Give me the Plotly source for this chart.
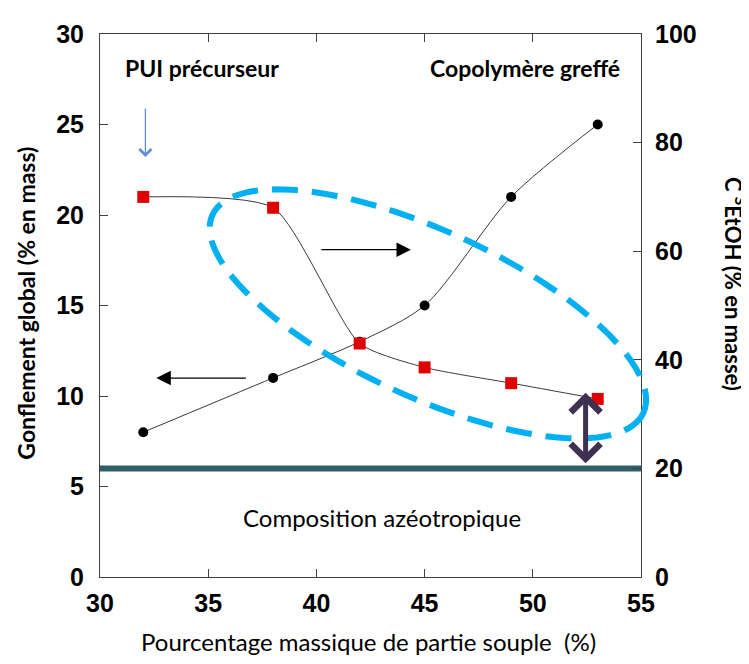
import numpy as np
import plotly.graph_objects as go

# ---- data ----
x_soft = [32, 38, 42, 45, 49, 53]                 # % partie souple
gonflement = [8, 11, 13, 15, 21, 25]               # % en mass (left axis)
c_etoh = [70, 68, 43, 38.6, 35.7, 32.8]            # % en masse (right axis)
azeotrope = [20, 20]                               # composition azéotropique (right axis)
azeo_x = [30, 55]
x_ticks = [30, 35, 40, 45, 50, 55]
y_ticks = [0, 5, 10, 15, 20, 25, 30]
y2_ticks = [0, 20, 40, 60, 80, 100]

# page has an 8px body margin; figure drawn at (8, 8)
OFF = 8
W, H = 749 - OFF, 664 - OFF
REF_L, REF_R, REF_T, REF_B = 99.5, 641.5, 27.5, 577.5
ML, MT = REF_L - OFF, REF_T - OFF
PW, PH = REF_R - REF_L, REF_B - REF_T
MR, MB = W - ML - PW, H - MT - PH

def px2paper(px, py):
    return (px - REF_L) / PW, (REF_B - py) / PH

TICKFONT = dict(family="Liberation Sans, Arial", size=25, color="black", weight="bold")
TXT = "Lato, Open Sans, sans-serif"

fig = go.Figure()

fig.add_trace(go.Scatter(
    x=azeo_x, y=azeotrope, yaxis="y2", mode="lines",
    line=dict(color="#2E5E6A", width=6), hoverinfo="skip", showlegend=False))

fig.add_trace(go.Scatter(
    x=x_soft, y=gonflement, mode="lines+markers",
    line=dict(color="#3a3a3a", width=1, shape="spline", smoothing=0.8),
    marker=dict(symbol="circle", size=10, color="black"),
    showlegend=False))

fig.add_trace(go.Scatter(
    x=x_soft, y=c_etoh, yaxis="y2", mode="lines+markers",
    line=dict(color="#3a3a3a", width=1, shape="spline", smoothing=0.6),
    marker=dict(symbol="square", size=12, color="#E00000"),
    showlegend=False))

# dashed ellipse (decoration) in paper coords
cx, cy, a, b, th = 428, 311, 238, 84, np.deg2rad(25)
t = np.linspace(0, 2 * np.pi, 121)
ex = cx + a * np.cos(t) * np.cos(th) - b * np.sin(t) * np.sin(th)
ey = cy + a * np.cos(t) * np.sin(th) + b * np.sin(t) * np.cos(th)
pts = [px2paper(u, v) for u, v in zip(ex, ey)]
path = "M " + " L ".join(f"{p[0]:.4f},{p[1]:.4f}" for p in pts) + " Z"
fig.add_shape(type="path", path=path, xref="paper", yref="paper",
              line=dict(color="#00B0F0", width=6, dash="26px,14px"))

annotations = []
def arrow(x0, y0, x1, y1, color, width, head, size=1.0, side="end"):
    X1, Y1 = px2paper(x1, y1)
    annotations.append(dict(
        x=X1, y=Y1, xref="paper", yref="paper",
        ax=x0 - x1, ay=y0 - y1, axref="pixel", ayref="pixel",
        showarrow=True, text="", arrowcolor=color, arrowwidth=width,
        arrowhead=head, arrowsize=size, arrowside=side,
        startarrowhead=head, startarrowsize=size))

arrow(145, 102, 145, 152, "#5B8ED6", 1.3, 4, 1.8)
arrow(320, 246, 411, 246, "black", 1.2, 2, 2.4)
arrow(247, 376, 156, 376, "black", 1.2, 2, 2.4)
arrow(586, 463, 586, 391, "#3F3151", 5, 4, 1.15, "end+start")

def text(px, py, s, size, weight="normal", xanchor="center", angle=0):
    X, Y = px2paper(px, py)
    annotations.append(dict(x=X, y=Y, xref="paper", yref="paper", text=s,
                            showarrow=False, xanchor=xanchor, yanchor="middle",
                            textangle=angle,
                            font=dict(family=TXT, size=size, color="black", weight=weight)))

text(123, 62, "PUI précurseur", 23, "bold", "left")
text(622, 62, "Copolymère greffé", 23, "bold", "right")
text(382, 517, "Composition azéotropique", 24)
text(368, 643, "Pourcentage massique de partie souple  (%)", 24)
text(25, 300, "Gonflement global (% en mass)", 23, "bold", "center", -90)
text(736, 281, "C <sup>S</sup>EtOH (% en masse)", 22, "bold", "center", 90)

fig.update_layout(
    width=W, height=H, margin=dict(l=ML, r=MR, t=MT, b=MB),
    plot_bgcolor="white", paper_bgcolor="white",
    annotations=annotations,
    xaxis=dict(range=[30, 55], tickvals=x_ticks, ticks="inside", ticklen=8,
               tickcolor="#404040", showline=True, linecolor="#404040", linewidth=1,
               mirror="ticks", showgrid=False, zeroline=False, tickfont=TICKFONT,
               ticklabelstandoff=4),
    yaxis=dict(range=[0, 30], tickvals=y_ticks, ticks="inside", ticklen=8,
               tickcolor="#404040", showline=True, linecolor="#404040", linewidth=1,
               showgrid=False, zeroline=False, tickfont=TICKFONT, ticklabelstandoff=10),
    yaxis2=dict(range=[0, 100], tickvals=y2_ticks, ticks="inside", ticklen=8,
                tickcolor="#404040", showline=True, linecolor="#404040", linewidth=1,
                overlaying="y", side="right", showgrid=False, zeroline=False,
                tickfont=TICKFONT, ticklabelstandoff=8),
)

fig.write_html("out.html")
